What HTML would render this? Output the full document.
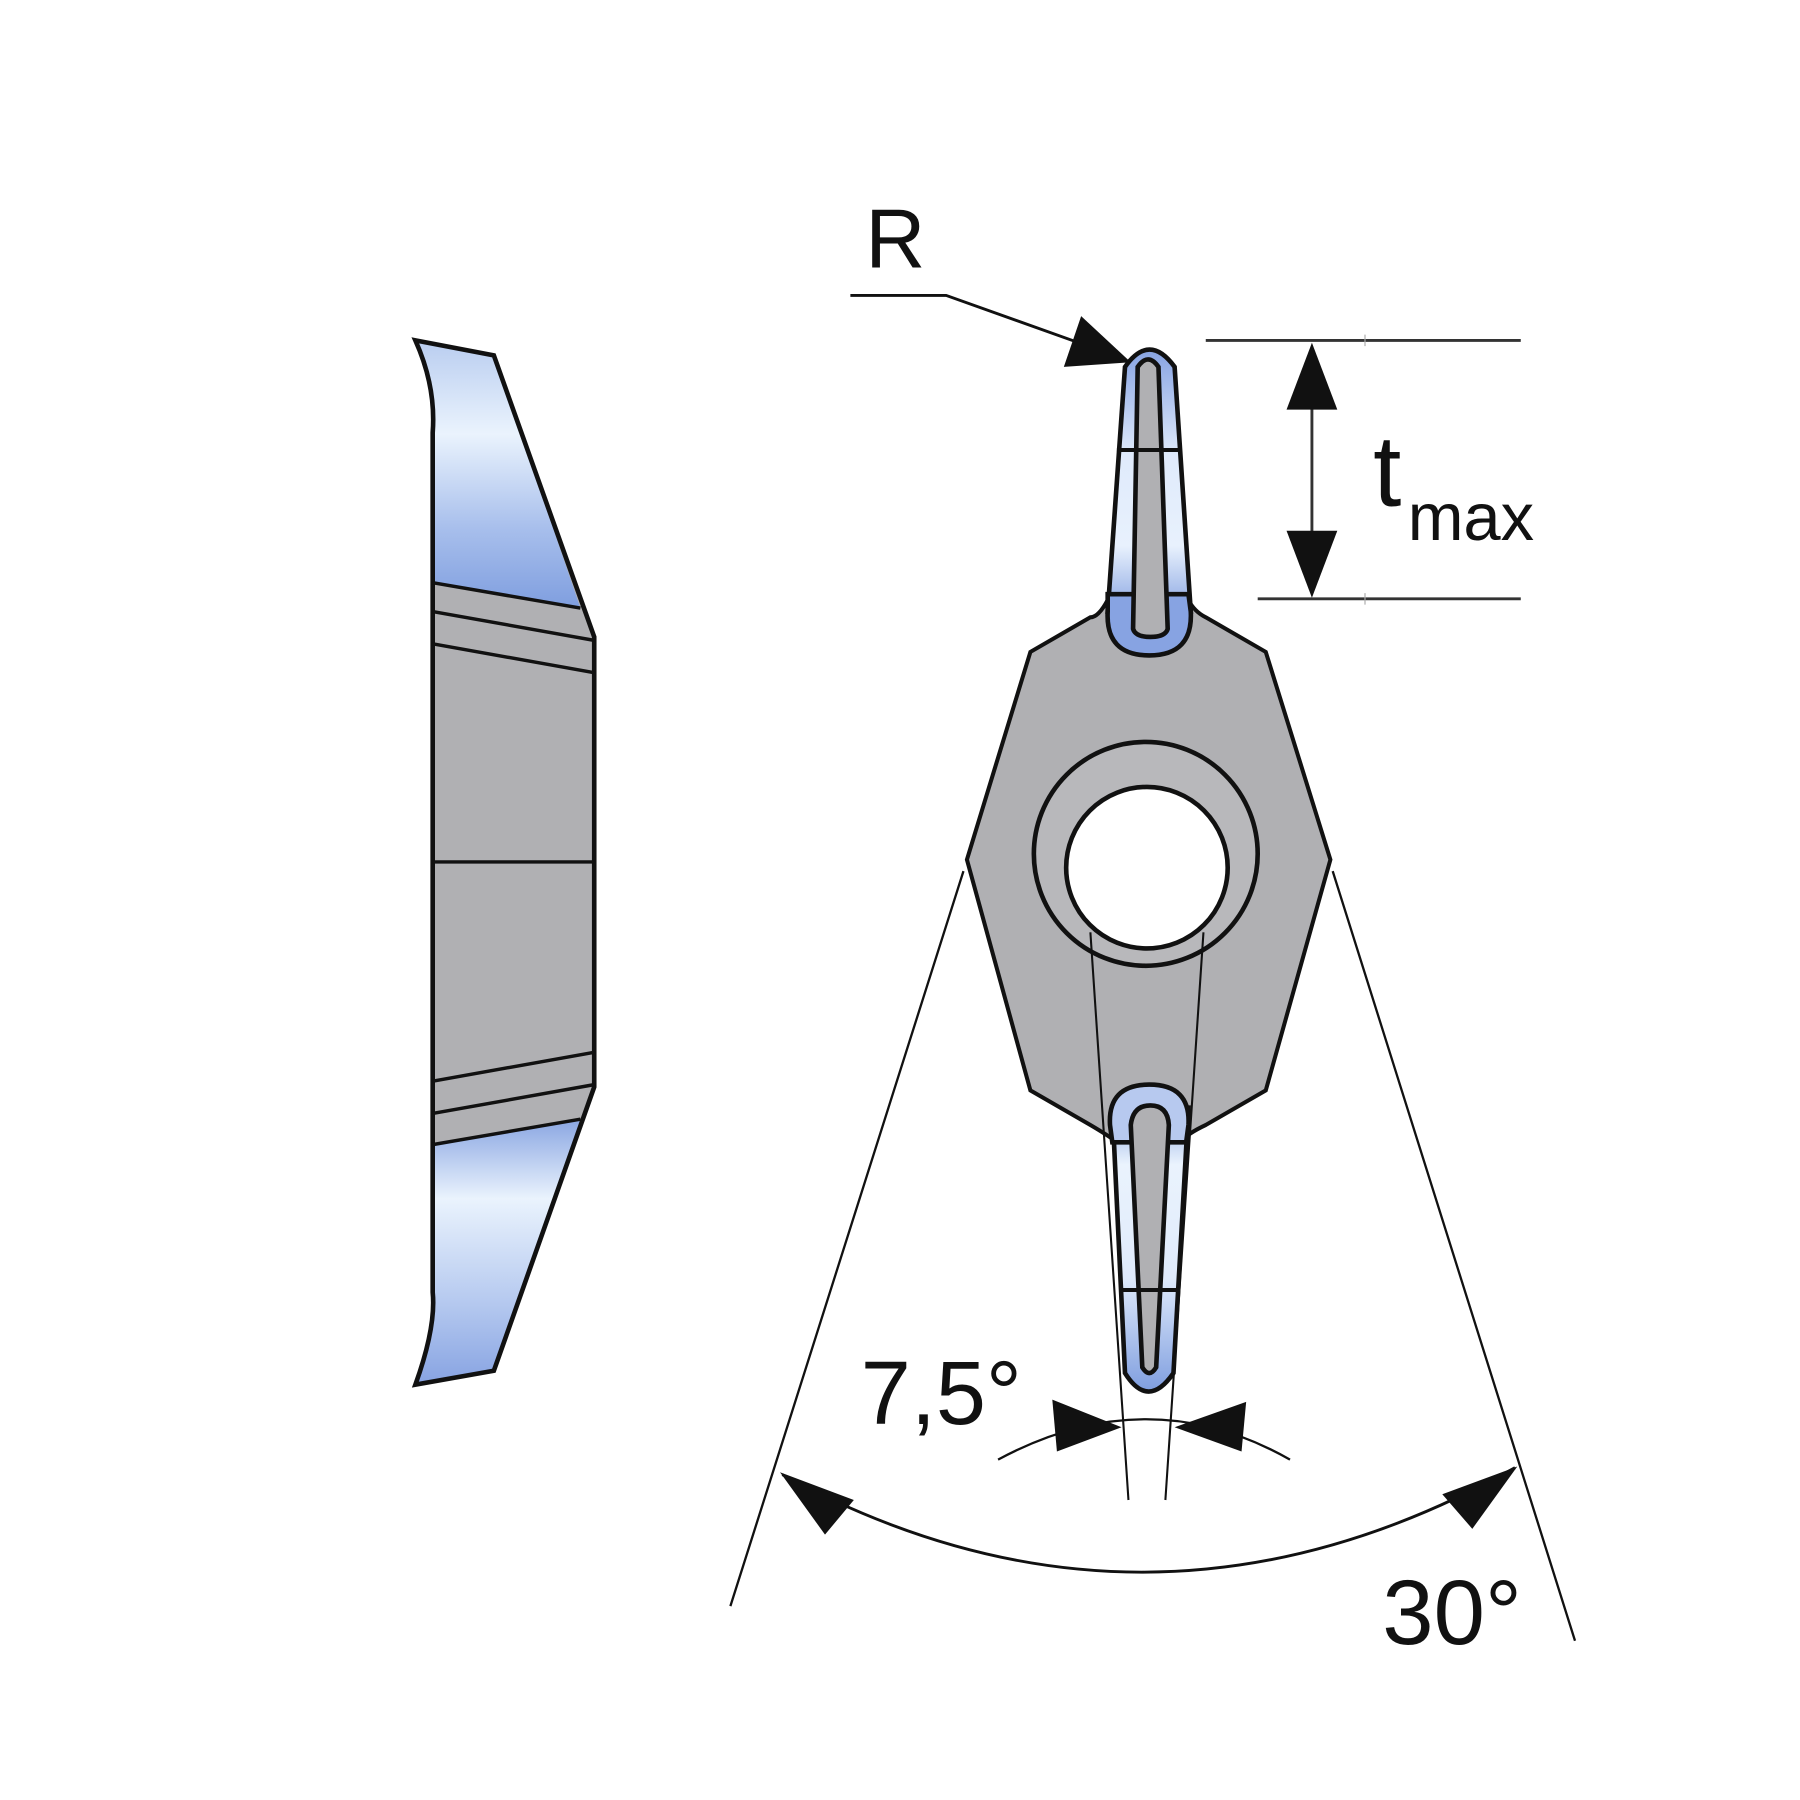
<!DOCTYPE html>
<html><head><meta charset="utf-8"><style>html,body{margin:0;padding:0;background:#fff}svg{display:block}</style></head><body>
<svg width="1800" height="1800" viewBox="0 0 1560 1560" xmlns="http://www.w3.org/2000/svg" font-family="Liberation Sans, sans-serif">
<defs>
<linearGradient id="bt" x1="0" y1="0" x2="0" y2="1">
<stop offset="0" stop-color="#b9cdf0"/><stop offset="0.35" stop-color="#eaf3fd"/><stop offset="0.7" stop-color="#a8bfec"/><stop offset="1" stop-color="#7f9edf"/></linearGradient>
<linearGradient id="bb" x1="0" y1="0" x2="0" y2="1">
<stop offset="0" stop-color="#8aa6e2"/><stop offset="0.3" stop-color="#eaf3fd"/><stop offset="0.7" stop-color="#b4c8ef"/><stop offset="1" stop-color="#87a3e2"/></linearGradient>
<linearGradient id="blade1" x1="0" y1="0" x2="0" y2="1">
<stop offset="0" stop-color="#87a3e2"/><stop offset="0.4" stop-color="#dfeafb"/><stop offset="0.75" stop-color="#e8f1fd"/><stop offset="1" stop-color="#8aa6e2"/></linearGradient>
<linearGradient id="blade2" x1="0" y1="0" x2="0" y2="1">
<stop offset="0" stop-color="#8aa6e2"/><stop offset="0.2" stop-color="#eaf3fd"/><stop offset="0.6" stop-color="#dfeafb"/><stop offset="1" stop-color="#7f9edf"/></linearGradient>
</defs>
<path d="M360,295 L428,308 L515,552 L515,942 L428,1188 L360,1200 Q378,1150 375,1120 L375,375 Q378,335 360,295 Z" fill="#b0b0b3"/>
<path d="M360,295 L428,308 L503,527 L375,505 L375,375 Q378,335 360,295 Z" fill="url(#bt)"/>
<path d="M360,1200 L428,1188 L503,970 L375,992 L375,1120 Q378,1160 360,1200 Z" fill="url(#bb)"/>
<g stroke="#111" stroke-width="4" fill="none">
<path d="M360,295 L428,308 L515,552 L515,942 L428,1188 L360,1200 Q378,1150 375,1120 L375,375 Q378,335 360,295 Z"/>
<path d="M375,505 L503,527 M375,530 L515,555 M375,558 L515,583 M375,747 L515,747 M375,937 L515,912 M375,965 L515,940 M375,992 L503,970" stroke-width="3"/>
</g>
<path d="M960,520 Q952,535 945,535 L893,565 L838,745 L893,945 L945,975 Q962,985 968,990 L1022,990 Q1030,982 1045,975 L1097,945 L1153,745 L1097,565 L1045,535 Q1035,530 1030,520 Z" fill="#b0b0b3" stroke="#111" stroke-width="3.5"/>
<path d="M960,530 L975,318 Q996,288 1018,318 L1032,530 Z" fill="url(#blade1)" stroke="#111" stroke-width="4"/>
<path d="M960,530 Q958,568 996,568 Q1034,568 1032,530 L1030,515 L960,515 Z" fill="#87a3e2" stroke="#111" stroke-width="4"/>
<path d="M982,545 L986,318 Q995,305 1004,318 L1012,545 Q1010,552 997,552 Q984,552 982,545 Z" fill="#b0b0b3" stroke="#111" stroke-width="4"/>
<path d="M968,390 L1022,390" stroke="#111" stroke-width="3.5"/>
<path d="M964,960 L975,1190 Q995,1222 1017,1190 L1030,960 Z" fill="url(#blade2)" stroke="#111" stroke-width="4"/>
<path d="M962,975 Q960,940 996,940 Q1032,940 1030,975 L1028,990 L964,990 Z" fill="#b7c9ef" stroke="#111" stroke-width="4"/>
<path d="M980,975 Q982,958 997,958 Q1012,958 1013,975 L1002,1185 Q996,1195 990,1185 Z" fill="#b0b0b3" stroke="#111" stroke-width="4"/>
<path d="M970,1118 L1022,1118" stroke="#111" stroke-width="3.5"/>
<circle cx="993" cy="740" r="97" fill="#b8b8bb" stroke="#111" stroke-width="4"/>
<circle cx="994" cy="752" r="70" fill="#fff" stroke="#111" stroke-width="4"/>
<path d="M945,808 L978,1300 M1043,808 L1010,1300" stroke="#111" stroke-width="1.8" fill="none"/>
<path d="M835,755 L633,1392 M1155,755 L1365,1422" stroke="#111" stroke-width="2" fill="none"/>
<path d="M678,1278 Q995,1450 1313,1272" stroke="#111" stroke-width="2.5" fill="none"/>
<polygon points="676,1276 740,1300 715,1330" fill="#111"/>
<polygon points="1315,1271 1276,1325 1250,1295" fill="#111"/>
<path d="M865,1265 Q995,1195 1118,1265" stroke="#111" stroke-width="2" fill="none"/>
<polygon points="972,1237 912,1213 916,1258" fill="#111"/>
<polygon points="1018,1237 1080,1215 1076,1258" fill="#111"/>
<text x="746" y="1234" font-size="78" fill="#111">7,5°</text>
<text x="1198" y="1425" font-size="80" fill="#111">30°</text>
<text x="750" y="232" font-size="72" fill="#111">R</text>
<path d="M737,256 L820,256 L960,306" stroke="#111" stroke-width="2.5" fill="none"/>
<polygon points="980,314 937,274 922,318" fill="#111"/>
<path d="M1045,295 L1318,295 M1090,519 L1318,519 M1137,350 L1137,465" stroke="#333" stroke-width="2.5" fill="none"/>
<path d="M1183,290 L1183,300 M1183,514 L1183,524" stroke="#aaa" stroke-width="1"/>
<polygon points="1137,297 1115,355 1159,355" fill="#111"/>
<polygon points="1137,518 1115,460 1159,460" fill="#111"/>
<text x="1190" y="438" font-size="88" fill="#111">t</text>
<text x="1220" y="468" font-size="58" fill="#111">max</text>
</svg>
</body></html>
